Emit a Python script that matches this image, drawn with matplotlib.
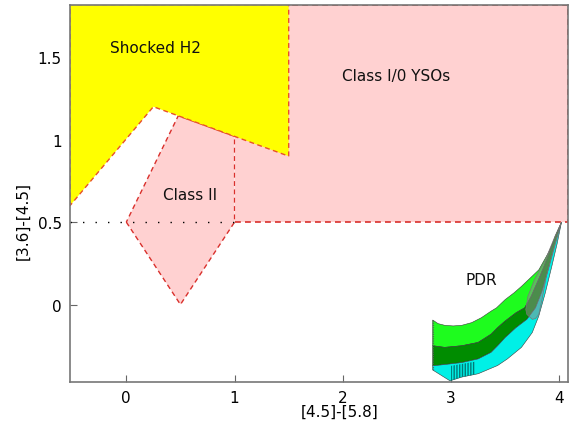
import numpy as np
import matplotlib.pyplot as plt
from matplotlib.patches import Polygon

# axis ranges
x_range = (-0.52, 4.08)
y_range = (-0.47, 1.82)

# region outlines ([4.5]-[5.8], [3.6]-[4.5])
shocked_h2 = [(-0.52, 0.60), (-0.52, 1.82), (1.5, 1.82), (1.5, 0.90), (0.25, 1.20)]
class_ii = [(0.0, 0.5), (0.5, 0.0), (1.0, 0.5), (1.0, 1.02), (0.48, 1.145)]
class_i0 = [(1.0, 0.5), (4.08, 0.5), (4.08, 1.82), (1.0, 1.82)]

# PDR band boundaries
pdr_top = [(2.83, -0.094), (2.88, -0.116), (2.94, -0.126), (3.02, -0.13), (3.10, -0.126),
           (3.19, -0.11), (3.28, -0.08), (3.37, -0.04), (3.42, -0.02), (3.50, 0.03),
           (3.58, 0.07), (3.65, 0.11), (3.73, 0.16), (3.81, 0.21), (3.90, 0.315),
           (3.96, 0.40), (4.00, 0.46), (4.02, 0.50)]
pdr_mid1 = [(2.83, -0.25), (2.94, -0.26), (3.10, -0.25), (3.25, -0.23), (3.37, -0.18),
            (3.43, -0.14), (3.50, -0.10), (3.60, -0.05), (3.68, -0.02), (3.74, 0.05),
            (3.82, 0.17), (3.90, 0.30), (3.96, 0.41), (4.02, 0.50)]
pdr_mid2 = [(2.83, -0.372), (2.97, -0.362), (3.10, -0.352), (3.25, -0.33), (3.37, -0.29),
            (3.43, -0.25), (3.50, -0.20), (3.60, -0.14), (3.70, -0.09), (3.78, -0.02),
            (3.84, 0.08), (3.90, 0.22), (3.96, 0.37), (4.02, 0.50)]
pdr_bottom = [(2.83, -0.397), (2.99, -0.463), (3.10, -0.44), (3.25, -0.42), (3.43, -0.37),
              (3.52, -0.33), (3.65, -0.26), (3.75, -0.17), (3.81, -0.07), (3.87, 0.07),
              (3.93, 0.23), (3.98, 0.37), (4.02, 0.50)]
pdr_overlap = [(3.75, -0.09), (3.70, -0.06), (3.69, -0.03), (3.71, 0.05), (3.77, 0.15),
               (3.87, 0.27), (3.96, 0.415), (4.02, 0.50), (3.95, 0.335), (3.88, 0.17),
               (3.84, 0.03), (3.81, -0.06), (3.78, -0.085)]
pdr_hatch = [(3.00, -0.372), (3.22, -0.347), (3.22, -0.425), (3.10, -0.44), (3.00, -0.462)]

labels = {'Shocked H2': (0.27, 1.56), 'Class I/0 YSOs': (2.49, 1.39),
          'Class II': (0.59, 0.67), 'PDR': (3.28, 0.15)}

pink = '#ffd1d1'
red = '#d9302c'
dash = (0, (3.5, 2.5))

fig = plt.figure(figsize=(5.72, 4.31), dpi=100)
ax = fig.add_axes([0.1224, 0.1114, 0.8706, 0.8758])

ax.add_patch(Polygon(class_ii, closed=True, facecolor=pink, edgecolor=red,
                     linestyle=dash, lw=1, zorder=1))
# semi-opaque fill so the Class II edge at x=1 shows through faintly
ax.add_patch(Polygon(class_i0, closed=False, facecolor=(1, 0.76, 0.76, 0.75),
                     edgecolor=red, linestyle=dash, lw=1.2, zorder=2))
ax.add_patch(Polygon(shocked_h2, closed=True, facecolor='#ffff00',
                     edgecolor='#e8502a', linestyle=dash, lw=1, zorder=3))
ax.plot([x_range[0], 1.0], [0.5, 0.5], color='k', lw=1,
        linestyle=(0, (1, 8)), zorder=4)

# PDR bands
band_cols = ['#1efc1e', '#008c00', '#00f0e6']
bounds = [pdr_top, pdr_mid1, pdr_mid2, pdr_bottom]
for i, col in enumerate(band_cols):
    pts = bounds[i] + bounds[i + 1][::-1]
    ax.add_patch(Polygon(pts, closed=True, facecolor=col, edgecolor='#3a3a3a',
                         lw=0.4, zorder=5))
ax.add_patch(Polygon(pdr_hatch, closed=True, facecolor='none', edgecolor='#007a78',
                     hatch='||||||', lw=0, zorder=6))
ax.add_patch(Polygon(pdr_overlap, closed=True, facecolor=(0.55, 0.55, 0.55, 0.55),
                     edgecolor='#777777', lw=0.5, zorder=7))
ax.plot([pdr_top[0][0], pdr_bottom[0][0]], [pdr_top[0][1], pdr_bottom[0][1]],
        color='#555555', lw=0.8, linestyle=(0, (1, 1)), zorder=8)

for txt, (x, y) in labels.items():
    ax.text(x, y, txt, ha='center', va='center', fontsize=11, color='#111111', zorder=9)

ax.set_xlim(*x_range)
ax.set_ylim(*y_range)
ax.set_xticks([0, 1, 2, 3, 4])
ax.set_yticks([0, 0.5, 1, 1.5])
ax.set_yticklabels(['0', '0.5', '1', '1.5'])
ax.tick_params(direction='in', length=5, width=0.8, color='#666666',
               labelsize=11, pad=6, top=False, right=False)
for s in ax.spines.values():
    s.set_color('#777777')
    s.set_linewidth(1.2)
    s.set_zorder(10)

ax.set_xlabel('[4.5]-[5.8]', fontsize=11)
ax.set_ylabel('[3.6]-[4.5]', fontsize=11)
ax.xaxis.set_label_coords(0.542, -0.058)
ax.yaxis.set_label_coords(-0.08, 0.43)

fig.savefig('out.png', dpi=100)
